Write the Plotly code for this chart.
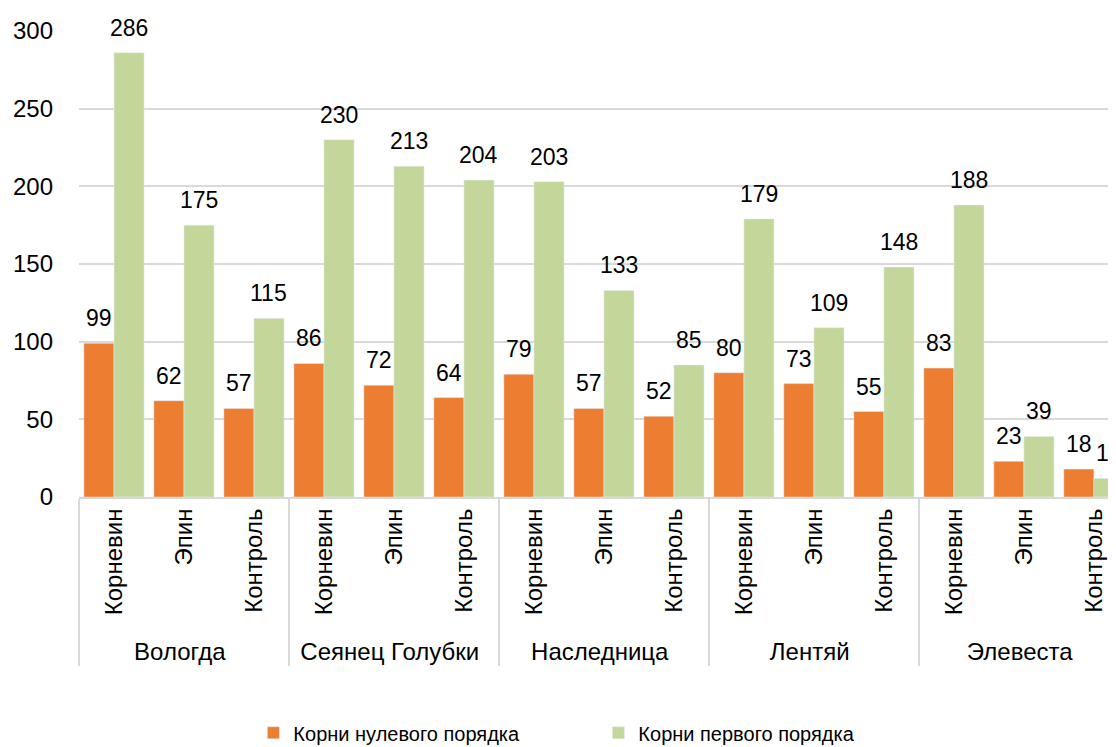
import plotly.graph_objects as go

varieties = ["Вологда", "Сеянец Голубки", "Наследница", "Лентяй", "Элевеста"]
treatments = ["Корневин", "Эпин", "Контроль"]
zero_order = [99, 62, 57, 86, 72, 64, 79, 57, 52, 80, 73, 55, 83, 23, 18]
first_order = [286, 175, 115, 230, 213, 204, 203, 133, 85, 179, 109, 148, 188, 39, 12]

grp = [v for v in varieties for _ in treatments]
trt = [t for _ in varieties for t in treatments]

FONT = "Liberation Sans, Arial, sans-serif"
ORANGE = "#ED7D31"
GREEN = "#C4D79B"

fig = go.Figure()
fig.add_trace(go.Bar(x=[grp, trt], y=zero_order, name="Корни нулевого порядка",
                     marker_color=ORANGE))
fig.add_trace(go.Bar(x=[grp, trt], y=first_order, name="Корни первого порядка",
                     marker_color=GREEN))

# data labels above each bar
for i, (a, b) in enumerate(zip(zero_order, first_order)):
    for val, sh in ((a, -15), (b, 15)):
        fig.add_annotation(x=i, y=val, xref="x", yref="y", text=str(val),
                           showarrow=False, xshift=sh, yshift=10, yanchor="bottom",
                           font=dict(size=23, color="#000000", family=FONT))

fig.update_layout(
    width=1116, height=747,
    margin=dict(l=71, r=0, t=23, b=258),
    paper_bgcolor="white", plot_bgcolor="white",
    barmode="group", bargap=0.14, bargroupgap=0,
    font=dict(family=FONT, size=23, color="#000000"),
    showlegend=True,
    legend=dict(orientation="h", x=0.497, xanchor="center", y=-0.506, yanchor="middle",
                font=dict(size=20), traceorder="normal",
                entrywidth=300, entrywidthmode="pixels"),
)
fig.update_xaxes(
    type="multicategory", range=[-0.5, 14.43],
    showline=True, linecolor="#d9d9d9", linewidth=2,
    showdividers=True, dividercolor="#d9d9d9", dividerwidth=2,
    tickangle=-90, tickfont=dict(size=24, family=FONT),
    ticks="outside", ticklen=7, tickcolor="rgba(0,0,0,0)", showgrid=False,
)
fig.update_yaxes(
    range=[0, 300], dtick=50, showgrid=True, gridcolor="#d9d9d9", gridwidth=2,
    zeroline=False, showline=False, tickfont=dict(size=24, family=FONT),
    ticks="", ticklabelstandoff=25,
)

fig.write_html("out.html")
